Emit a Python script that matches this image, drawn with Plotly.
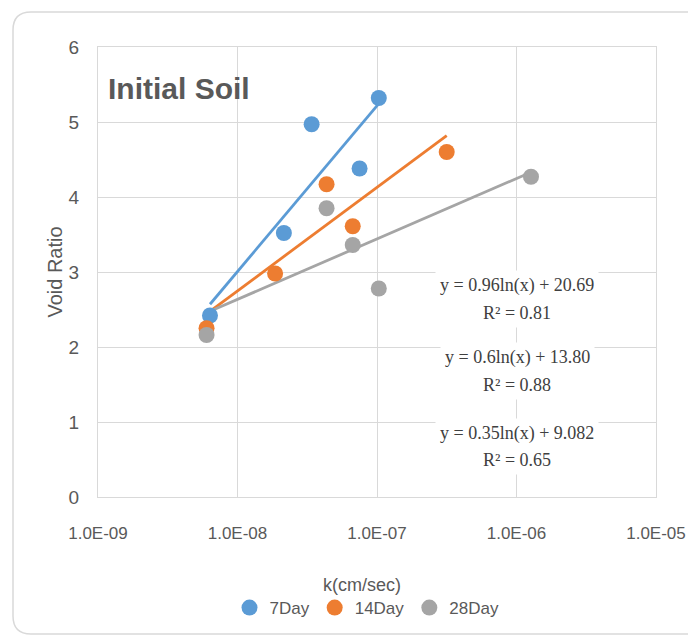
import numpy as np
import plotly.graph_objects as go

# ---- data ----
k_7day = [6.35e-9, 2.15e-8, 3.4e-8, 7.5e-8, 1.03e-7]
e_7day = [2.42, 3.52, 4.97, 4.38, 5.32]

k_14day = [6.0e-9, 1.86e-8, 4.35e-8, 6.7e-8, 3.16e-7]
e_14day = [2.25, 2.98, 4.17, 3.61, 4.60]

k_28day = [6.0e-9, 4.35e-8, 6.7e-8, 1.03e-7, 1.27e-6]
e_28day = [2.16, 3.85, 3.36, 2.78, 4.27]

series_names = ["7Day", "14Day", "28Day"]
trend_a = [0.96, 0.6, 0.35]
trend_b = [20.69, 13.80, 9.082]
trend_labels = ["y = 0.96ln(x) + 20.69", "y = 0.6ln(x) + 13.80", "y = 0.35ln(x) + 9.082"]
r2_labels = ["R² = 0.81", "R² = 0.88", "R² = 0.65"]

x_tickvals = [1e-9, 1e-8, 1e-7, 1e-6, 1e-5]
x_ticktext = ["1.0E-09", "1.0E-08", "1.0E-07", "1.0E-06", "1.0E-05"]

colors = ["#5B9BD5", "#ED7D31", "#A5A5A5"]
SANS = "Liberation Sans, Arial, sans-serif"
SERIF = "Liberation Serif, Times New Roman, serif"

# the page body has an 8px margin, so the figure is offset by (8, 8)
OFF = 8
W, H = 696 - 2 * OFF, 644 - 2 * OFF
ML, MT = 98 - OFF, 47 - OFF
PW, PH = 558, 450
MR = W - ML - PW
MB = H - MT - PH


def px_to_paper(px, py):
    """page pixel -> paper coords"""
    return (px - OFF - ML) / PW, (MT + PH - (py - OFF)) / PH


fig = go.Figure()

all_k = [k_7day, k_14day, k_28day]
all_e = [e_7day, e_14day, e_28day]

# trendlines (logarithmic fits, as shown on the chart)
for i in range(3):
    kx = np.geomspace(min(all_k[i]), max(all_k[i]), 60)
    fig.add_trace(go.Scatter(
        x=kx, y=trend_a[i] * np.log(kx) + trend_b[i],
        mode="lines", line=dict(color=colors[i], width=2.8),
        showlegend=False, hoverinfo="skip"))

# data markers
for i in range(3):
    fig.add_trace(go.Scatter(
        x=all_k[i], y=all_e[i], mode="markers", name=series_names[i],
        marker=dict(color=colors[i], size=16, line=dict(width=0))))

# chart border (rounded rectangle)
x0, y0 = px_to_paper(13, 12)
x1, y1 = px_to_paper(705, 634)
rx, ry = 18 / PW, 18 / PH
path = (f"M {x0+rx},{y0} L {x1-rx},{y0} Q {x1},{y0} {x1},{y0-ry} "
        f"L {x1},{y1+ry} Q {x1},{y1} {x1-rx},{y1} L {x0+rx},{y1} "
        f"Q {x0},{y1} {x0},{y1+ry} L {x0},{y0-ry} Q {x0},{y0} {x0+rx},{y0} Z")
fig.add_shape(type="path", path=path, xref="paper", yref="paper",
              line=dict(color="#D9D9D9", width=1.5), layer="below")

# equations
eq_rows = [(285, 313), (357, 385), (433, 460)]
for i in range(3):
    for txt, py in ((trend_labels[i], eq_rows[i][0]), (r2_labels[i], eq_rows[i][1])):
        ax, ay = px_to_paper(517, py)
        fig.add_annotation(x=ax, y=ay, xref="paper", yref="paper", text=txt,
                           showarrow=False, xanchor="center", yanchor="middle",
                           font=dict(family=SERIF, size=18, color="#404040"),
                           bgcolor="white", borderpad=4)

# x-axis title
tx, ty = px_to_paper(362, 585)
fig.add_annotation(x=tx, y=ty, xref="paper", yref="paper", text="k(cm/sec)",
                   showarrow=False, xanchor="center", yanchor="middle",
                   font=dict(family=SANS, size=18, color="#595959"))

lx, ly = px_to_paper(367, 608)
fig.update_layout(
    width=W, height=H,
    margin=dict(l=ML, r=MR, t=MT, b=MB, autoexpand=False),
    paper_bgcolor="white", plot_bgcolor="white",
    title=dict(text="<b>Initial Soil</b>", x=(112 - OFF - 4) / W, xanchor="left",
               y=1 - (88 - OFF) / H, yanchor="middle",
               font=dict(family=SANS, size=30, color="#595959")),
    xaxis=dict(type="log", range=[-9, -5], tickvals=x_tickvals, ticktext=x_ticktext,
               showgrid=True, gridcolor="#D9D9D9", gridwidth=1, automargin=False,
               showline=True, linecolor="#D9D9D9", mirror=True, zeroline=False,
               ticks="", ticklabelstandoff=21,
               tickfont=dict(family=SANS, size=17, color="#595959")),
    yaxis=dict(range=[0, 6], dtick=1, tick0=0, automargin=False,
               showgrid=True, gridcolor="#D9D9D9", gridwidth=1,
               showline=True, linecolor="#D9D9D9", mirror=True, zeroline=False,
               ticks="", ticklabelstandoff=14,
               tickfont=dict(family=SANS, size=19, color="#595959"),
               title=dict(text="Void Ratio", standoff=0,
                          font=dict(family=SANS, size=20, color="#595959"))),
    legend=dict(orientation="h", x=lx, xanchor="center", y=ly, yanchor="middle",
                font=dict(family=SANS, size=17, color="#595959"),
                itemwidth=30, bgcolor="rgba(0,0,0,0)"),
    showlegend=True,
)

fig.write_html("out.html")
